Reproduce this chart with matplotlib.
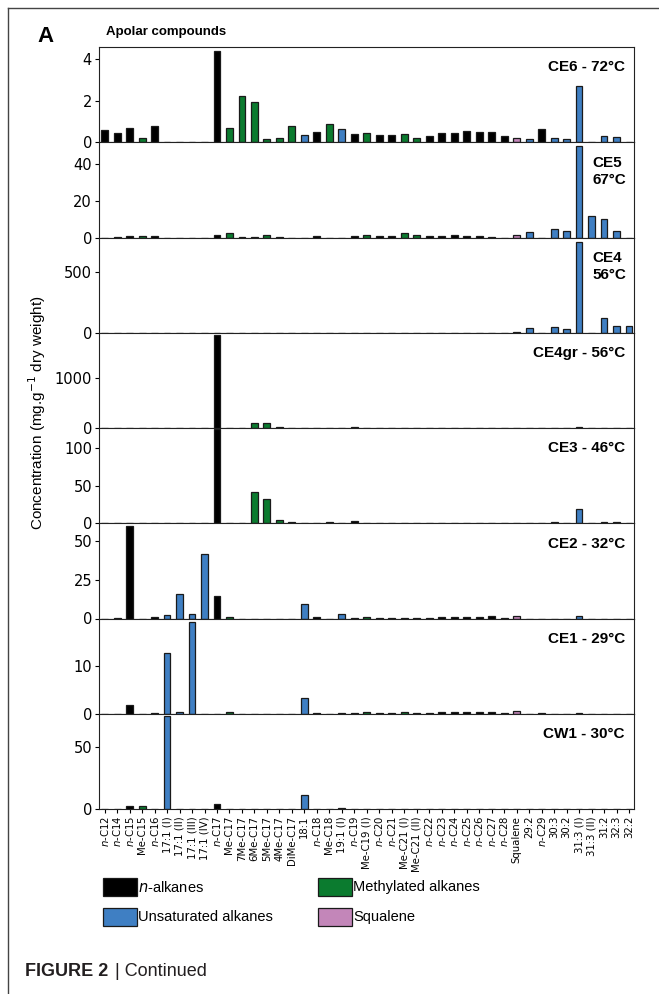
import matplotlib
matplotlib.use("Agg")
import matplotlib.pyplot as plt
from matplotlib.patches import Rectangle
from matplotlib.lines import Line2D
import numpy as np

categories = ["n-C12", "n-C14", "n-C15", "Me-C15", "n-C16", "17:1 (I)", "17:1 (II)", "17:1 (III)",
              "17:1 (IV)", "n-C17", "Me-C17", "7Me-C17", "6Me-C17", "5Me-C17", "4Me-C17", "DiMe-C17",
              "18:1", "n-C18", "Me-C18", "19:1 (I)", "n-C19", "Me-C19 (I)", "n-C20", "n-C21",
              "Me-C21 (I)", "Me-C21 (II)", "n-C22", "n-C23", "n-C24", "n-C25", "n-C26", "n-C27",
              "n-C28", "Squalene", "29:2", "n-C29", "30:3", "30:2", "31:3 (I)", "31:3 (II)",
              "31:2", "32:3", "32:2"]

ce6 = [0.60, 0.43, 0.68, 0.20, 0.76, 0, 0, 0, 0, 4.37, 0.67, 2.22, 1.94, 0.17, 0.19, 0.78,
       0.33, 0.51, 0.86, 0.63, 0.39, 0.43, 0.33, 0.35, 0.38, 0.22, 0.32, 0.46, 0.46, 0.52,
       0.48, 0.51, 0.32, 0.19, 0.16, 0.65, 0.20, 0.14, 2.70, 0, 0.32, 0.24, 0]
ce5 = [0, 0.3, 0.7, 0.6, 0.8, 0, 0, 0, 0, 1.2, 2.3, 0.5, 0.3, 1.5, 0.4, 0,
       0, 1.0, 0, 0, 0.8, 1.5, 1.0, 1.0, 2.5, 1.2, 1.0, 1.0, 1.1, 0.8,
       0.6, 0.3, 0, 1.5, 3.2, 0, 4.5, 3.8, 50.0, 12.0, 10.0, 3.5, 0]
ce4 = [0, 1, 1, 0, 2, 0, 0, 0, 0, 2, 0, 0, 0, 0, 0, 0,
       0, 1, 0, 0, 2, 1, 1, 1, 1, 1, 1, 1, 1, 1,
       1, 1, 1, 10, 35, 0, 43, 33, 745, 0, 120, 52, 52]
ce4gr = [0, 0, 5, 0, 5, 0, 0, 5, 0, 1850, 0, 0, 100, 100, 13, 0,
         0, 0, 0, 0, 10, 0, 0, 0, 0, 0, 0, 0, 0, 0,
         0, 0, 0, 0, 0, 0, 0, 0, 15, 0, 0, 0, 0]
ce3 = [0, 0, 0.5, 0, 0.5, 0, 0, 0.5, 0, 126, 0, 0, 41.3, 33.0, 3.7, 2.3,
       0, 0, 1.5, 0, 3.2, 0.5, 0, 0.5, 0, 0, 0.5, 0, 0, 0.5,
       0, 0, 0.7, 1.0, 1.0, 0, 1.5, 0.8, 18.8, 0, 1.5, 1.5, 0]
ce2 = [0, 0.3, 59.7, 0, 1.0, 2.4, 15.8, 2.8, 41.6, 14.5, 0.8, 0, 0, 0, 0, 0,
       9.3, 0.8, 0, 2.8, 0.6, 0.7, 0.5, 0.6, 0.6, 0.4, 0.5, 1.0, 0.8, 0.8,
       0.7, 1.5, 0.6, 1.5, 0, 0, 0, 0, 1.3, 0, 0, 0, 0]
ce1 = [0, 0, 1.9, 0, 0.2, 12.9, 0.3, 19.4, 0, 0, 0.3, 0, 0, 0, 0, 0,
       3.4, 0.2, 0, 0.2, 0.2, 0.3, 0.2, 0.2, 0.3, 0.2, 0.2, 0.3, 0.3, 0.3,
       0.3, 0.4, 0.2, 0.6, 0, 0.2, 0, 0, 0.2, 0, 0, 0, 0]
cw1 = [0, 0, 2.2, 2.2, 0.3, 75.6, 0, 0, 0, 4.2, 0.3, 0, 0, 0, 0, 0,
       11.7, 0.2, 0, 0.7, 0.2, 0.2, 0.2, 0.2, 0.2, 0.2, 0.2, 0.2, 0.2, 0.2,
       0.2, 0.2, 0.2, 0, 0, 0.2, 0, 0, 0.3, 0, 0, 0, 0]

panel_names = ["CE6 - 72°C", "CE5\n67°C", "CE4\n56°C", "CE4gr - 56°C", "CE3 - 46°C",
               "CE2 - 32°C", "CE1 - 29°C", "CW1 - 30°C"]
panel_data = [ce6, ce5, ce4, ce4gr, ce3, ce2, ce1, cw1]
panel_ylim = [4.57, 52, 780, 1890, 127, 61.3, 20.1, 77.2]
panel_yticks = [[0, 2, 4], [0, 20, 40], [0, 500], [0, 1000], [0, 50, 100], [0, 25, 50], [0, 10], [0, 50]]

group_names = ["n-alkanes", "Methylated alkanes", "Unsaturated alkanes", "Squalene"]
group_colors = {"n-alkanes": "#000000", "Methylated alkanes": "#0b7b2f",
                "Unsaturated alkanes": "#3f7fc3", "Squalene": "#c386b9"}


def group_of(c):
    if c.startswith("n-"):
        return "n-alkanes"
    if "Me" in c:
        return "Methylated alkanes"
    if c == "Squalene":
        return "Squalene"
    return "Unsaturated alkanes"


bar_colors = [group_colors[group_of(c)] for c in categories]


def tick_label(c):
    if c.startswith("n-"):
        return r"$\it{n}$" + c[1:]
    return c


W, H = 659, 994
fig = plt.figure(figsize=(W / 100, H / 100), dpi=100)

left, right = 99 / W, 634 / W
top_px, bot_px = 47, 809
ph = (bot_px - top_px) / 8
x = np.arange(len(categories))

for i, (name, vals) in enumerate(zip(panel_names, panel_data)):
    y0 = top_px + i * ph
    ax = fig.add_axes([left, 1 - (y0 + ph) / H, right - left, ph / H])
    ax.bar(x, vals, width=0.55, color=bar_colors, edgecolor="#1a1a1a", linewidth=0.9, zorder=2)
    ax.set_xlim(-0.45, len(categories) - 0.6)
    ax.set_ylim(0, panel_ylim[i])
    ax.set_yticks(panel_yticks[i])
    ax.tick_params(axis="y", labelsize=10.5, length=3, width=0.8, pad=2)
    ax.tick_params(axis="x", length=3, width=0.8, direction="out")
    ax.set_xticks(x)
    if i == 7:
        ax.set_xticklabels([tick_label(c) for c in categories], rotation=90, fontsize=7.3)
        ax.tick_params(axis="x", pad=2)
    else:
        ax.set_xticklabels([])
    for s in ax.spines.values():
        s.set_linewidth(0.8)
        s.set_color("#222222")
    if "\n" in name:
        ax.text(0.922, 0.86, name, transform=ax.transAxes, ha="left", va="top",
                fontsize=11, fontweight="bold", family="Liberation Sans", linespacing=1.3)
    else:
        ax.text(0.983, 0.86, name, transform=ax.transAxes, ha="right", va="top",
                fontsize=11, fontweight="bold", family="Liberation Sans")

fig.text(37 / W, 1 - 36 / H, "A", fontsize=16, fontweight="bold", family="Liberation Sans",
         ha="left", va="center")
fig.text(106 / W, 1 - 32 / H, "Apolar compounds", fontsize=9.5, fontweight="bold",
         family="Liberation Sans", ha="left", va="center")
fig.text(37 / W, 1 - 413 / H, "Concentration (mg.g$^{-1}$ dry weight)", rotation=90,
         fontsize=11, family="Liberation Sans", ha="center", va="center")

# legend
leg_items = [("n-alkanes", 103, 878), ("Methylated alkanes", 318, 878),
             ("Unsaturated alkanes", 103, 908), ("Squalene", 318, 908)]
for g, lx, ly in leg_items:
    fig.add_artist(Rectangle((lx / W, 1 - (ly + 18) / H), 34 / W, 18 / H,
                             transform=fig.transFigure, facecolor=group_colors[g],
                             edgecolor="#1a1a1a", linewidth=0.9))
    lab = r"$\it{n}$-alkanes" if g == "n-alkanes" else g
    fig.text((lx + 35) / W, 1 - (ly + 9) / H, lab, fontsize=10.5, family="Liberation Sans",
             ha="left", va="center")

# frame lines
fig.add_artist(Line2D([8 / W, 1], [1 - 8 / H, 1 - 8 / H], transform=fig.transFigure,
                      color="#444444", linewidth=1.0))
fig.add_artist(Line2D([8 / W, 8 / W], [1 - 8 / H, 0], transform=fig.transFigure,
                      color="#444444", linewidth=1.0))

fig.text(25 / W, 1 - 972 / H, "FIGURE 2", fontsize=13, fontweight="bold",
         family="Liberation Sans", ha="left", va="center", color="#231f20")
fig.text(115 / W, 1 - 972 / H, "| Continued", fontsize=13, family="Liberation Sans",
         ha="left", va="center", color="#231f20")

fig.savefig("out.png", dpi=100)
